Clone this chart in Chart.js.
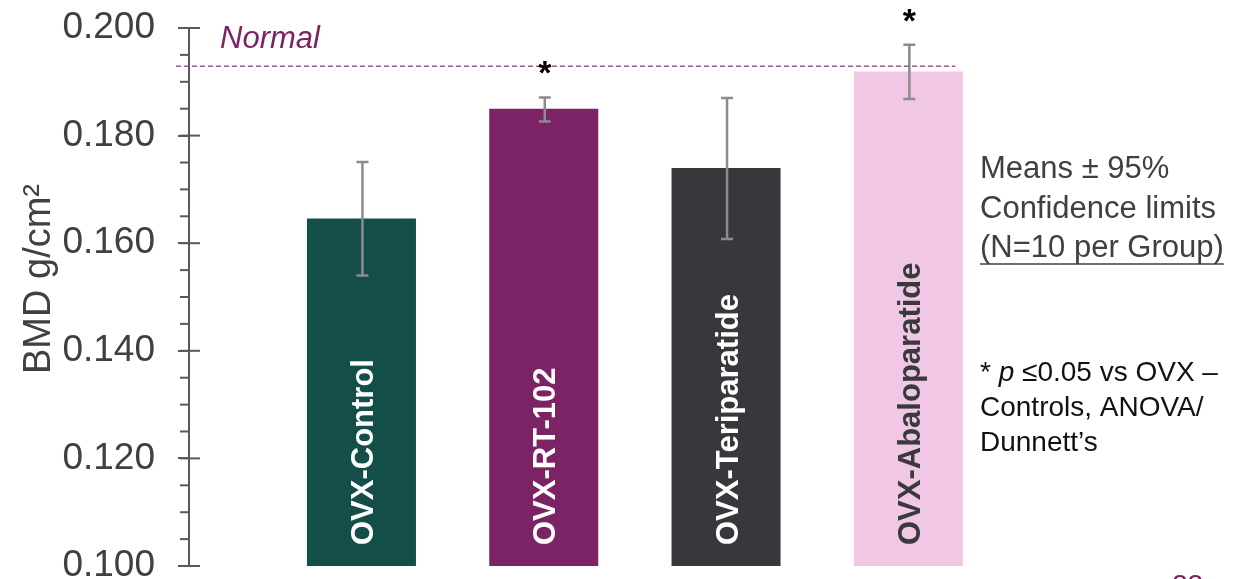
<!DOCTYPE html>
<html>
<head>
<meta charset="utf-8">
<title>BMD by group</title>
<script src="https://cdn.jsdelivr.net/npm/chart.js@4.4.1/dist/chart.umd.min.js"></script>
<style>
  html, body { margin: 0; padding: 0; background: #fff; }
  #wrap { width: 1250px; height: 579px; }
</style>
</head>
<body>
<div id="wrap"><canvas id="bmdChart" width="1250" height="579"></canvas></div>
<script>
// group data: BMD means with 95% confidence limits
const categories = ['OVX-Control', 'OVX-RT-102', 'OVX-Teriparatide', 'OVX-Abaloparatide'];
const means = [0.1646, 0.1850, 0.1740, 0.1919];
const lowerCI = [0.1540, 0.1826, 0.1608, 0.1868];
const upperCI = [0.1751, 0.1871, 0.1870, 0.1969];
const significant = [false, true, false, true];
const normalBMD = 0.1929;
const yTicks = [0.100, 0.120, 0.140, 0.160, 0.180, 0.200];
const yMinorStep = 0.005;

const barColors = ['#134f48', '#7b2365', '#37373c', '#f0c8e6'];
const labelColors = ['#ffffff', '#ffffff', '#ffffff', '#3a3a3c'];
const FONT = '"Liberation Sans", Arial, Helvetica, sans-serif';
const AXIS = '#595959';
const TEXT = '#404040';
const PURPLE = '#7b2365';

const overlay = {
  id: 'bmdOverlay',
  afterDatasetsDraw(chart) {
    const { ctx, scales: { y } } = chart;
    const meta = chart.getDatasetMeta(0);
    const axisX = chart.chartArea.left;
    ctx.save();

    // minor ticks (left side) and right stubs of the major ticks
    ctx.strokeStyle = AXIS;
    ctx.lineWidth = 2;
    const nMinor = Math.round((y.max - y.min) / yMinorStep);
    for (let k = 0; k <= nMinor; k++) {
      const py = y.getPixelForValue(y.min + k * yMinorStep);
      const major = k % 4 === 0;
      ctx.beginPath();
      ctx.moveTo(axisX - 9, py);
      ctx.lineTo(major ? axisX + 11 : axisX, py);
      ctx.stroke();
    }

    // group names written up the bars
    ctx.font = 'bold 31px ' + FONT;
    ctx.textAlign = 'left';
    ctx.textBaseline = 'middle';
    meta.data.forEach((bar, i) => {
      ctx.save();
      ctx.translate(bar.x + 2, y.bottom - 21);
      ctx.rotate(-Math.PI / 2);
      ctx.fillStyle = labelColors[i];
      ctx.fillText(categories[i], 0, 1);
      ctx.restore();
    });

    // confidence-limit whiskers
    ctx.strokeStyle = '#8c8c8c';
    ctx.lineWidth = 2.5;
    meta.data.forEach((bar, i) => {
      const top = y.getPixelForValue(upperCI[i]);
      const bot = y.getPixelForValue(lowerCI[i]);
      const cx = bar.x + 1;
      ctx.beginPath();
      ctx.moveTo(cx, top); ctx.lineTo(cx, bot);
      ctx.moveTo(cx - 6, top); ctx.lineTo(cx + 6, top);
      ctx.moveTo(cx - 6, bot); ctx.lineTo(cx + 6, bot);
      ctx.stroke();
    });

    // normal reference line
    const ny = y.getPixelForValue(normalBMD);
    ctx.strokeStyle = '#9c5a8e';
    ctx.lineWidth = 1.5;
    ctx.setLineDash([5, 3]);
    ctx.beginPath();
    ctx.moveTo(axisX - 13, ny);
    ctx.lineTo(meta.data[3].x + 47, ny);
    ctx.stroke();
    ctx.setLineDash([]);
    ctx.fillStyle = PURPLE;
    ctx.font = 'italic 31px ' + FONT;
    ctx.textBaseline = 'alphabetic';
    ctx.fillText('Normal', 220, 48);

    // significance stars
    ctx.fillStyle = '#000';
    ctx.font = 'bold 34px ' + FONT;
    ctx.textAlign = 'center';
    meta.data.forEach((bar, i) => {
      if (!significant[i]) return;
      const top = y.getPixelForValue(upperCI[i]);
      ctx.fillText('*', bar.x + 1, top - 13);
    });

    // y axis title
    ctx.save();
    ctx.translate(40, 279);
    ctx.rotate(-Math.PI / 2);
    ctx.fillStyle = TEXT;
    ctx.font = '38px ' + FONT;
    ctx.textAlign = 'center';
    ctx.textBaseline = 'middle';
    ctx.fillText('BMD g/cm\u00B2', 0, 0);
    ctx.restore();

    // side notes
    ctx.textAlign = 'left';
    ctx.textBaseline = 'alphabetic';
    ctx.fillStyle = TEXT;
    ctx.font = '31px ' + FONT;
    ctx.fillText('Means \u00B1 95%', 980, 178);
    ctx.fillText('Confidence limits', 980, 218);
    const nText = '(N=10 per Group)';
    ctx.fillText(nText, 980, 257);
    const nw = ctx.measureText(nText).width;
    ctx.strokeStyle = TEXT;
    ctx.lineWidth = 1.5;
    ctx.beginPath();
    ctx.moveTo(980, 264); ctx.lineTo(980 + nw, 264);
    ctx.stroke();

    ctx.fillStyle = '#111';
    ctx.font = '28px ' + FONT;
    let tx = 980;
    ctx.fillText('* ', tx, 381);
    tx += ctx.measureText('* ').width;
    ctx.font = 'italic 28px ' + FONT;
    ctx.fillText('p', tx, 381);
    tx += ctx.measureText('p ').width;
    ctx.font = '28px ' + FONT;
    ctx.fillText('\u22640.05 vs OVX \u2013', tx, 381);
    ctx.fillText('Controls, ANOVA/', 980, 416);
    ctx.fillText('Dunnett\u2019s', 980, 451);

    // slide number
    ctx.fillStyle = PURPLE;
    ctx.font = '28px ' + FONT;
    ctx.fillText('22', 1172, 594);

    ctx.restore();
  }
};

new Chart(document.getElementById('bmdChart'), {
  type: 'bar',
  data: {
    datasets: [{
      data: categories.map((c, i) => ({ x: i, y: means[i] })),
      backgroundColor: barColors,
      borderWidth: 0,
      barPercentage: 1,
      categoryPercentage: 0.598
    }]
  },
  options: {
    responsive: false,
    animation: false,
    events: [],
    layout: { padding: { left: 0, top: 28, right: 250.5, bottom: 13 } },
    plugins: { legend: { display: false }, tooltip: { enabled: false } },
    scales: {
      x: {
        type: 'linear',
        min: -0.946,
        max: 3.5,
        offset: false,
        display: false,
        // one tick per group so the bar width follows the group spacing
        afterBuildTicks(scale) { scale.ticks = categories.map((c, i) => ({ value: i })); }
      },
      y: {
        min: 0.1,
        max: 0.2,
        afterBuildTicks(scale) { scale.ticks = yTicks.map((v) => ({ value: v })); },
        afterFit(scale) {
          scale.width = 189;
          scale.paddingTop = 0;
          scale.paddingBottom = 0;
        },
        ticks: {
          color: TEXT,
          padding: 23,
          font: { size: 37, family: FONT },
          callback: (v) => Number(v).toFixed(3)
        },
        grid: { drawOnChartArea: false, tickLength: 11, color: AXIS, lineWidth: 2 },
        border: { color: AXIS, width: 2 }
      }
    }
  },
  plugins: [overlay]
});
</script>
</body>
</html>
